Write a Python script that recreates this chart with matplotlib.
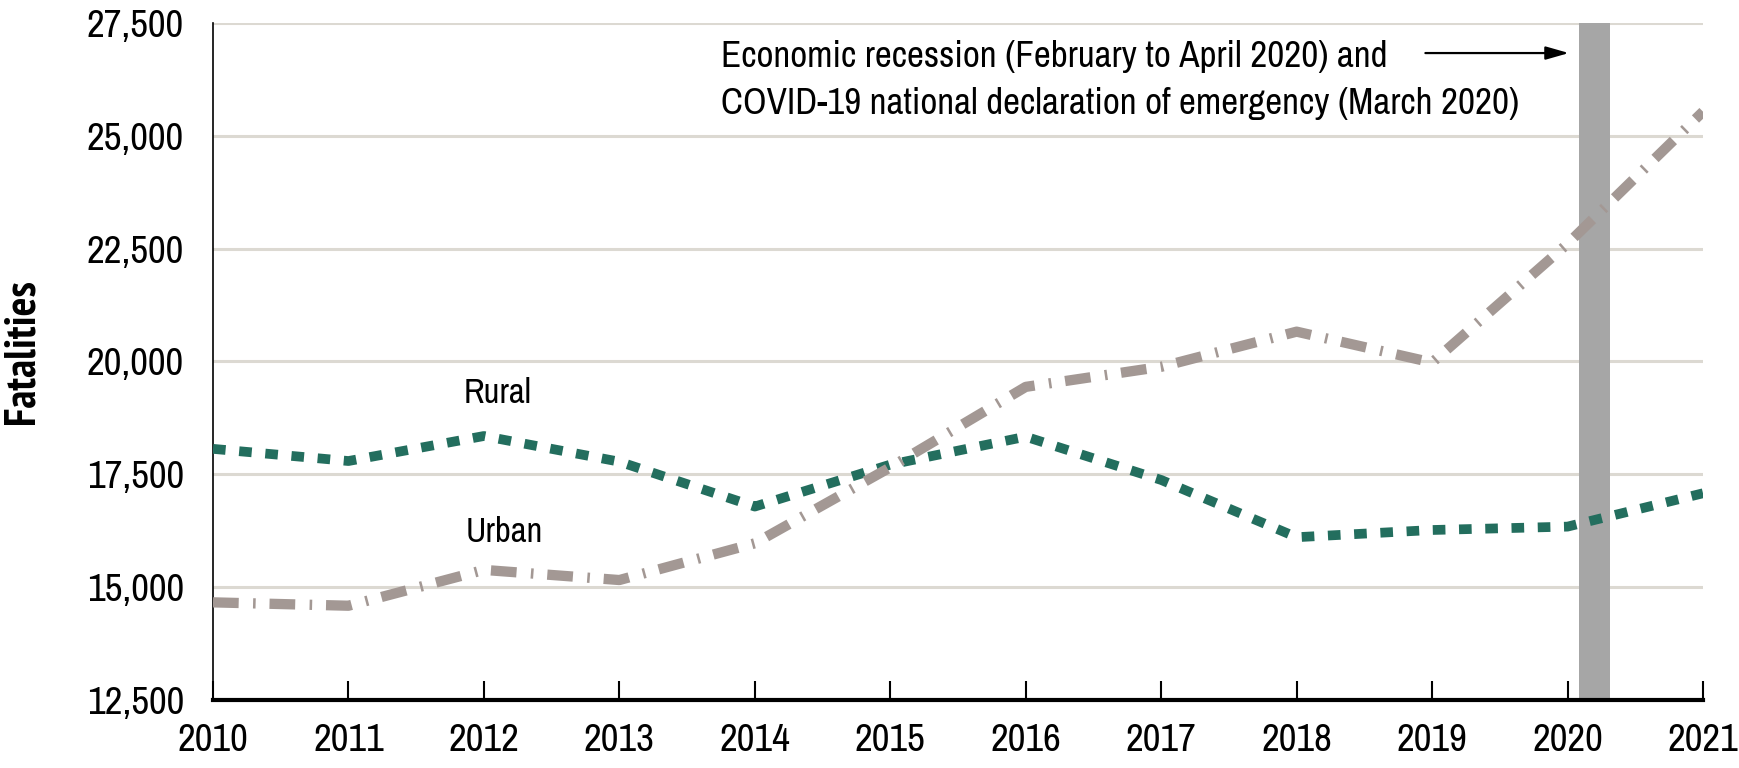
import matplotlib
matplotlib.use("Agg")
import matplotlib.pyplot as plt
from matplotlib import font_manager

years = [2010, 2011, 2012, 2013, 2014, 2015, 2016, 2017, 2018, 2019, 2020, 2021]
rural = [18060, 17790, 18345, 17775, 16780, 17710, 18330, 17370, 16100, 16260, 16335, 17075]
urban = [14655, 14580, 15375, 15150, 15965, 17650, 19435, 19880, 20660, 19975, 22610, 25540]
recession = [2020.083, 2020.31]
yticks = [12500, 15000, 17500, 20000, 22500, 25000, 27500]
series_labels = ["Rural", "Urban"]
annotation_lines = ["Economic recession (February to April 2020) and",
                    "COVID-19 national declaration of emergency (March 2020)"]

fonts = font_manager.fontManager.ttflist
avail = {f.name for f in fonts}
bold_avail = {f.name for f in fonts if (f.weight if isinstance(f.weight, int) else 700 if f.weight == "bold" else 400) >= 700}
cands = ["Liberation Sans Narrow", "Arial Narrow", "Archivo Narrow", "PT Sans Narrow",
         "Roboto Condensed", "IBM Plex Sans Condensed", "Encode Sans Condensed",
         "Asap Condensed", "Liberation Sans", "DejaVu Sans"]
fam = [f for f in cands if f in avail][:1] + ["DejaVu Sans"]
bfam = [f for f in cands if f in bold_avail][:1] + ["DejaVu Sans"]
plt.rcParams['font.family'] = fam

W, H = 1739, 768
fig = plt.figure(figsize=(W / 100, H / 100), dpi=100)
ax = fig.add_axes([213 / W, 1 - 699.5 / H, (1703 - 213) / W, (699.5 - 23.3) / H])

ax.set_xlim(2010, 2021)
ax.set_ylim(12500, 27500)

for y in yticks[1:]:
    ax.axhline(y, color="#dcd9d2", lw=2.2, zorder=1)

ax.axvspan(recession[0], recession[1], color="#a6a6a6", lw=0, zorder=2)

ax.plot(years, rural, color="#236e5e", lw=7.0, linestyle=(0, (1.3, 1.4)),
        dash_capstyle="butt", solid_joinstyle="round", zorder=3)
ax.plot(years, urban, color="#a39894", lw=7.4, linestyle=(0, (2.5, 1.4, 0.25, 1.35)),
        dash_capstyle="butt", zorder=3)

ax.text(2012.1, 19300, series_labels[0], fontsize=25, ha="center", va="center")
ax.text(2012.15, 16220, series_labels[1], fontsize=25, ha="center", va="center")

ax.text(2013.75, 26753, annotation_lines[0], fontsize=26.7, ha="left", va="center")
ax.text(2013.75, 25732, annotation_lines[1], fontsize=26.7, ha="left", va="center")
ax.annotate("", xy=(2020.03, 26840), xytext=(2018.93, 26840),
            arrowprops=dict(arrowstyle="-|>,head_length=1.4,head_width=0.4", color="black", lw=1.6))

ax.set_xticks(years)
ax.set_xticklabels([str(y) for y in years])
ax.set_yticks(yticks)
ax.set_yticklabels([f"{v:,}" for v in yticks])
ax.tick_params(axis="x", direction="in", length=14, width=1.5, labelsize=28, pad=17, color="black")
ax.tick_params(axis="y", length=0, labelsize=28, pad=21)

for s in ["top", "right"]:
    ax.spines[s].set_visible(False)
ax.spines["left"].set_linewidth(1.2)
ax.spines["bottom"].set_linewidth(3)
ax.spines["bottom"].set_zorder(4)

ax.set_ylabel("Fatalities", fontsize=31.5, fontweight="bold", va="center", family=bfam)
ax.yaxis.set_label_coords(-0.128, 0.5146)

fig.savefig("out.png", dpi=100)
